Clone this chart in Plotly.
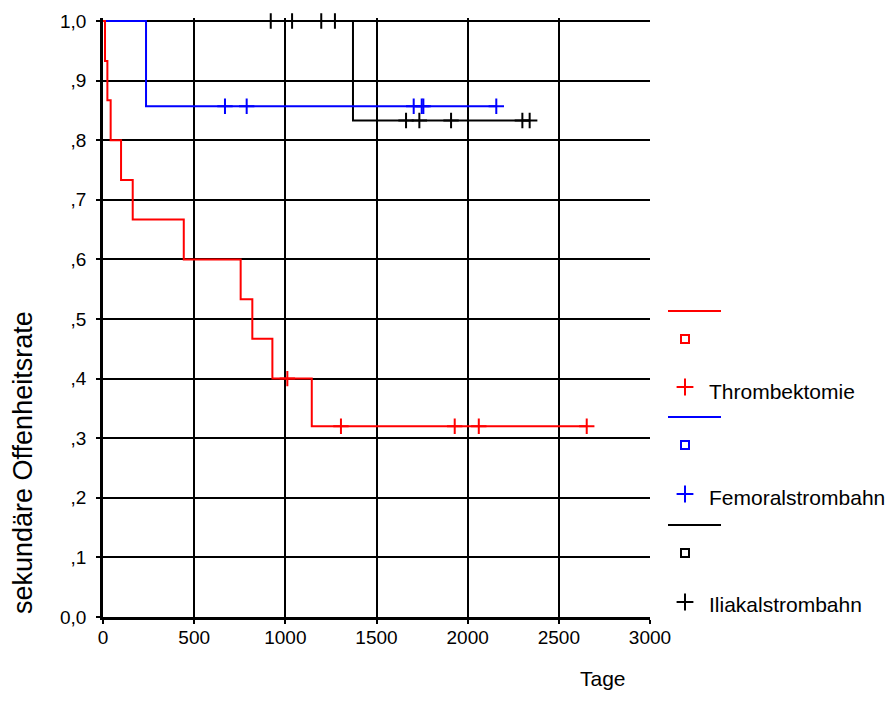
import plotly.graph_objects as go

# ---- data ----
red_step_t = [0, 11, 24, 42, 99, 163, 443, 755, 819, 929, 1145, 2653]
red_step_s = [1.0, 0.933, 0.867, 0.8, 0.733, 0.667, 0.6, 0.533, 0.467, 0.4, 0.32, 0.32]
red_cens_t = [1011, 1305, 1929, 2061, 2653]
red_cens_s = [0.4, 0.32, 0.32, 0.32, 0.32]

blue_step_t = [0, 236, 2157]
blue_step_s = [1.0, 0.857, 0.857]
blue_cens_t = [669, 788, 1704, 1748, 1757, 2157]
blue_cens_s = [0.857, 0.857, 0.857, 0.857, 0.857, 0.857]

black_step_t = [0, 1371, 2340]
black_step_s = [1.0, 0.833, 0.833]
black_cens_t = [920, 1037, 1197, 1272, 1662, 1735, 1909, 2300, 2340]
black_cens_s = [1.0, 1.0, 1.0, 1.0, 0.833, 0.833, 0.833, 0.833, 0.833]

group_names = ["Thrombektomie", "Femoralstrombahn", "Iliakalstrombahn"]
group_colors = ["#ff0000", "#0000ff", "#000000"]

x_ticks = [0, 500, 1000, 1500, 2000, 2500, 3000]
y_ticks = [0.0, 0.1, 0.2, 0.3, 0.4, 0.5, 0.6, 0.7, 0.8, 0.9, 1.0]
y_ticktext = ["0,0", ",1", ",2", ",3", ",4", ",5", ",6", ",7", ",8", ",9", "1,0"]

W, H = 892, 720
FONT = "Liberation Sans, Arial, sans-serif"

fig = go.Figure()

series = [
    (black_step_t, black_step_s, black_cens_t, black_cens_s, group_colors[2]),
    (blue_step_t, blue_step_s, blue_cens_t, blue_cens_s, group_colors[1]),
    (red_step_t, red_step_s, red_cens_t, red_cens_s, group_colors[0]),
]
for st, ss, ct, cs, col in series:
    fig.add_trace(go.Scatter(x=st, y=ss, mode="lines", line=dict(color=col, width=2, shape="hv"),
                             showlegend=False, hoverinfo="skip", cliponaxis=False))
    fig.add_trace(go.Scatter(x=ct, y=cs, mode="markers",
                             marker=dict(symbol="cross-thin", size=11, color=col,
                                         line=dict(color=col, width=2)),
                             showlegend=False, hoverinfo="skip", cliponaxis=False))

# ---- hand-drawn legend on a pixel overlay axis ----
leg_line_y = [311, 417, 525]
leg_sq_y = [339, 445, 553]
leg_cross_y = [387, 494, 602]
leg_text_y = [391, 497, 604]
for i, col in enumerate(group_colors):
    fig.add_trace(go.Scatter(x=[668, 721], y=[leg_line_y[i]] * 2, mode="lines",
                             line=dict(color=col, width=2), xaxis="x2", yaxis="y2",
                             showlegend=False, hoverinfo="skip", cliponaxis=False))
    fig.add_trace(go.Scatter(x=[685], y=[leg_sq_y[i]], mode="markers",
                             marker=dict(symbol="square-open", size=8, color=col, line=dict(width=2)),
                             xaxis="x2", yaxis="y2", showlegend=False, hoverinfo="skip", cliponaxis=False))
    fig.add_trace(go.Scatter(x=[685], y=[leg_cross_y[i]], mode="markers",
                             marker=dict(symbol="cross-thin", size=12, color=col,
                                         line=dict(color=col, width=2)),
                             xaxis="x2", yaxis="y2", showlegend=False, hoverinfo="skip", cliponaxis=False))
    fig.add_annotation(x=707, y=leg_text_y[i], xref="x2", yref="y2", text=group_names[i],
                       showarrow=False, xanchor="left", yanchor="middle",
                       font=dict(family=FONT, size=21, color="#000000"))

# axis titles
fig.add_annotation(x=23, y=463, xref="x2", yref="y2", text="sekundäre Offenheitsrate",
                   showarrow=False, textangle=-90, xanchor="center", yanchor="middle",
                   font=dict(family=FONT, size=27, color="#000000"))
fig.add_annotation(x=603, y=678, xref="x2", yref="y2", text="Tage",
                   showarrow=False, xanchor="center", yanchor="middle",
                   font=dict(family=FONT, size=21, color="#000000"))

x0px, x1px = 103, 650
y0px, ytop = 617, 18
fig.update_layout(
    width=W, height=H, autosize=False,
    margin=dict(l=0, r=0, t=0, b=0, pad=0),
    paper_bgcolor="white", plot_bgcolor="rgba(0,0,0,0)",
    font=dict(family=FONT, size=19, color="#000000"),
    xaxis=dict(domain=[x0px / W, x1px / W], range=[0, 3000], tickvals=x_ticks,
               showgrid=True, gridcolor="#000000", gridwidth=1.6, zeroline=False,
               showline=True, linecolor="#000000", linewidth=2.5, automargin=False,
               ticks="outside", ticklen=4, tickwidth=2, tickcolor="#000000",
               tickfont=dict(size=19), ticklabelstandoff=-3, fixedrange=True),
    yaxis=dict(domain=[(H - y0px) / H, (H - ytop) / H], range=[0, 1.005], tickvals=y_ticks,
               ticktext=y_ticktext, showgrid=True, gridcolor="#000000", gridwidth=1.6,
               zeroline=False, showline=True, linecolor="#000000", linewidth=2.5, automargin=False,
               ticks="outside", ticklen=4, tickwidth=2, tickcolor="#000000",
               tickfont=dict(size=19), ticklabelstandoff=6, fixedrange=True),
    xaxis2=dict(domain=[0, 1], range=[0, W], visible=False, anchor="y2", fixedrange=True,
                automargin=False),
    yaxis2=dict(domain=[0, 1], range=[H, 0], visible=False, anchor="x2", fixedrange=True,
                automargin=False),
)

fig.write_html("out.html")
